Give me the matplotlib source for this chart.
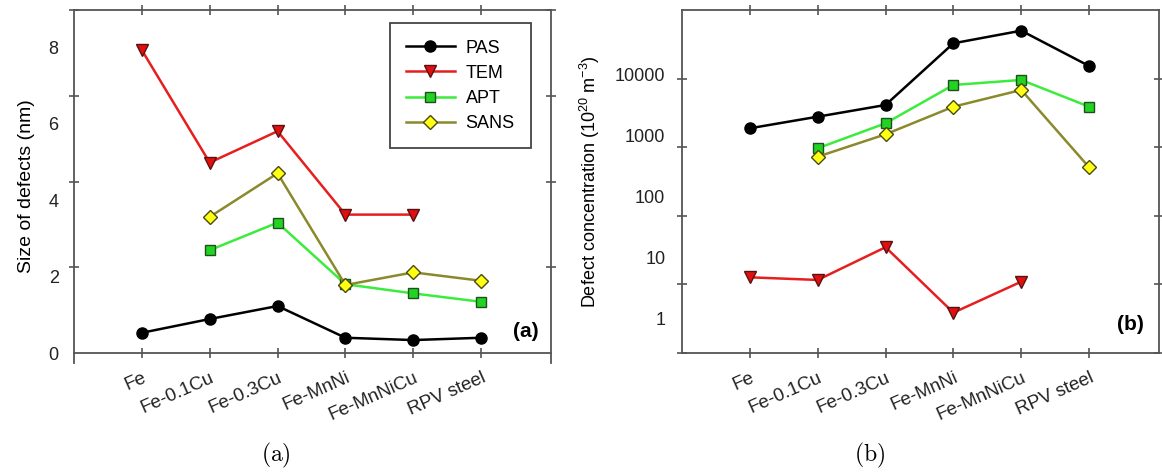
import matplotlib.pyplot as plt
import numpy as np
from matplotlib.transforms import ScaledTranslation

plt.rcParams['font.family'] = ['Liberation Sans', 'DejaVu Sans']
plt.rcParams['mathtext.fontset'] = 'custom'
plt.rcParams['mathtext.rm'] = 'Liberation Sans'

nan = np.nan
samples = ['Fe', 'Fe-0.1Cu', 'Fe-0.3Cu', 'Fe-MnNi', 'Fe-MnNiCu', 'RPV steel']
methods = ['PAS', 'TEM', 'APT', 'SANS']

# (a) size of defects (nm)
size_pas = [0.53, 0.89, 1.23, 0.40, 0.34, 0.40]
size_tem = [7.92, 4.98, 5.80, 3.62, 3.62, nan]
size_apt = [nan, 2.69, 3.41, 1.80, 1.56, 1.34]
size_sans = [nan, 3.56, 4.70, 1.78, 2.11, 1.89]

# (b) defect concentration (1e20 m^-3)
conc_pas = [1318, 2042, 3177, 32600, 52500, 13830]
conc_tem = [4.75, 4.30, 14.8, 1.25, 4.03, nan]
conc_apt = [nan, 620, 1592, 6761, 8166, 2978]
conc_sans = [nan, 451, 1050, 2978, 5600, 302]

styles = {
    'PAS': dict(color='black', marker='o', mfc='black', mec='black', ms=8),
    'TEM': dict(color='#e61e1e', marker='v', mfc='#e01010', mec='#5a1010', ms=9),
    'APT': dict(color='#3cec3c', marker='s', mfc='#22d422', mec='#1f4f1f', ms=7),
    'SANS': dict(color='#8a8a2c', marker='D', mfc='#ffff14', mec='#4a4a10', ms=7.5),
}

spine_col = '#555555'
x = np.arange(1, len(samples) + 1)

fig = plt.figure(figsize=(11.62, 4.75), dpi=100)
ax1 = fig.add_axes([74/1162, 1-363/475, 477/1162, 353/475])
ax2 = fig.add_axes([682/1162, 1-353/475, 477/1162, 343/475])

# panel (a) bottom axis sits at y = 0, side spines run a bit below it
ax1.spines['bottom'].set_position(('data', 0))

# slanted sample names sit a little right of their tick
shift = ScaledTranslation(27/100, 0, fig.dpi_scale_trans)

for ax in (ax1, ax2):
    for s in ax.spines.values():
        s.set_color(spine_col)
        s.set_linewidth(1.3)
    ax.set_xlim(0, 7.03)
    ax.set_xticks(x)
    ax.set_xticklabels(samples, rotation=24, ha='right', va='top', rotation_mode='anchor',
                       fontsize=13.5, color='#222222')
    for lab in ax.get_xticklabels():
        lab.set_transform(lab.get_transform() + shift)
    ax.tick_params(axis='x', direction='inout', length=7, width=1.2, color=spine_col,
                   top=True, pad=8)
    ax.tick_params(axis='y', which='major', length=0, labelsize=13, labelcolor='#222222')
    ax.tick_params(axis='y', which='minor', direction='inout', length=7, width=1.2,
                   color=spine_col, left=True, right=True)

# panel (a)
data_a = [size_pas, size_tem, size_apt, size_sans]
for m, vals in zip(methods, data_a):
    ax1.plot(x, vals, lw=1.8, label=m, **styles[m])
ylo, yhi = -0.26, 8.97
ax1.set_ylim(ylo, yhi)
ax1.set_yticks([0, 2, 4, 6, 8])
ax1.set_yticks([yhi * f for f in (0, 0.25, 0.5, 0.75, 1.0)], minor=True)
ax1.tick_params(axis='y', which='major', pad=11)
ax1.set_ylabel('Size of defects (nm)', fontsize=14, labelpad=10)
ax1.text(0.948, 0.088, '(a)', transform=ax1.transAxes, fontsize=15, fontweight='bold',
         ha='center', va='center')
leg = ax1.legend(loc='upper left', bbox_to_anchor=(0.662, 0.962), borderaxespad=0,
                 fontsize=13, handlelength=2.7, handletextpad=0.6, labelspacing=0.45,
                 borderpad=0.9, fancybox=False, framealpha=1, edgecolor='#444444')
leg.get_frame().set_linewidth(1.3)

# panel (b)
data_b = [conc_pas, conc_tem, conc_apt, conc_sans]
for m, vals in zip(methods, data_b):
    ax2.plot(x, vals, lw=1.8, label=m, **styles[m])
ax2.set_yscale('log')
lo, hi = -0.564, 5.059
ax2.set_ylim(10**lo, 10**hi)
ax2.set_yticks([1, 10, 100, 1000, 10000], ['1', '10', '100', '1000', '10000'])
ax2.yaxis.set_minor_locator(plt.FixedLocator([10**(lo + f*(hi - lo)) for f in (0, 0.2, 0.4, 0.6, 0.8)]))
ax2.yaxis.set_minor_formatter(plt.NullFormatter())
ax2.tick_params(axis='y', which='major', pad=12)
ax2.set_ylabel('Defect concentration (10$^{\\mathrm{20}}$ m$^{\\mathrm{-3}}$)', fontsize=13,
               labelpad=9)
ax2.text(0.941, 0.082, '(b)', transform=ax2.transAxes, fontsize=15, fontweight='bold',
         ha='center', va='center')

# captions
fig.text(276/1162, 1-455/475, '$\\mathrm{(a)}$', fontsize=17, ha='center', va='center',
         math_fontfamily='cm')
fig.text(870/1162, 1-455/475, '$\\mathrm{(b)}$', fontsize=17, ha='center', va='center',
         math_fontfamily='cm')

fig.savefig('out.png', dpi=100)
